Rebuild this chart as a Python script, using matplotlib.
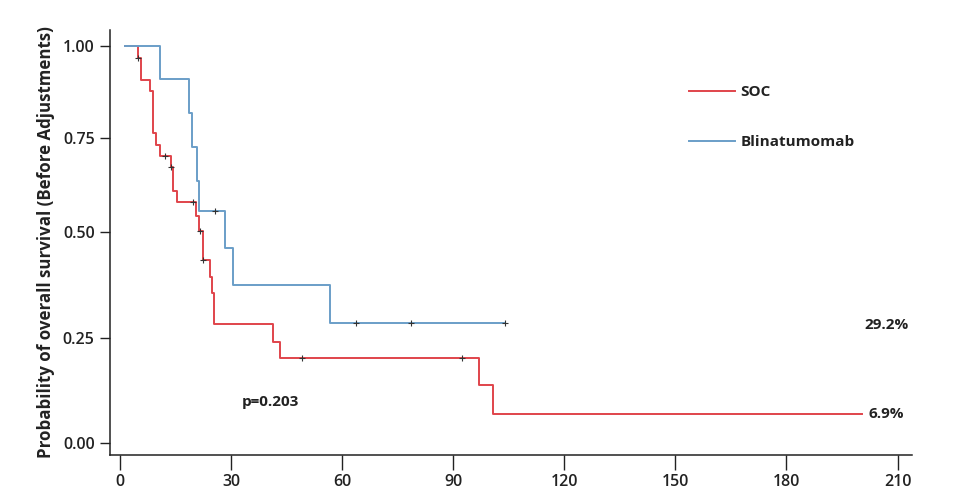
import numpy as np
import matplotlib
matplotlib.use("Agg")
import matplotlib.pyplot as plt

# ---- data ----
soc_times = [1.3, 4.9, 5.7, 8.1, 8.9, 9.7, 10.8, 13.8, 14.3, 15.4, 20.5, 21.3, 22.4, 24.3, 24.8, 25.4, 41.3, 43.2, 96.9, 100.7, 200.3]
soc_surv = [1.0, 0.967, 0.908, 0.878, 0.764, 0.731, 0.702, 0.673, 0.609, 0.580, 0.543, 0.503, 0.434, 0.394, 0.356, 0.283, 0.240, 0.202, 0.138, 0.069, 0.069]
soc_cens_t = [4.9, 12.2, 13.8, 19.7, 21.6, 22.4, 49.1, 92.3]
soc_cens_s = [0.967, 0.702, 0.673, 0.580, 0.503, 0.434, 0.202, 0.202]

bli_times = [1.3, 10.8, 18.6, 19.4, 20.8, 21.3, 28.4, 30.5, 56.7, 104.0]
bli_surv = [1.0, 0.909, 0.818, 0.727, 0.636, 0.556, 0.463, 0.375, 0.285, 0.285]
bli_cens_t = [25.6, 63.7, 78.6, 104.0]
bli_cens_s = [0.556, 0.285, 0.285, 0.285]

xticks = [0, 30, 60, 90, 120, 150, 180, 210]
yticks = [0.0, 0.25, 0.5, 0.75, 1.0]
ytick_labels = ["0.00", "0.25", "0.50", "0.75", "1.00"]

RED = "#e0444b"
BLUE = "#6a9ec8"

plt.rcParams['font.family'] = ['Open Sans', 'DejaVu Sans']

fig = plt.figure(figsize=(9.64, 4.99), dpi=100)
ax = fig.add_axes([110/964, 44/499, (912-110)/964, (469-44)/499])

# piecewise axis scale matching the reference's uneven tick spacing
_yn = np.array([-0.5, 0.0, 0.25, 0.5, 0.75, 1.0, 1.5])
_pn = np.array([-210, 0, 105, 211, 305, 397, 581], dtype=float)
def fwd(y):
    return np.interp(y, _yn, _pn)
def inv(p):
    return np.interp(p, _pn, _yn)
ax.set_yscale('function', functions=(fwd, inv))

ax.step(soc_times, soc_surv, where='post', color=RED, lw=1.4, label='SOC')
ax.step(bli_times, bli_surv, where='post', color=BLUE, lw=1.4, label='Blinatumomab')
ax.plot(soc_cens_t, soc_cens_s, ls='none', marker='+', color='#333333', ms=4, mew=0.8)
ax.plot(bli_cens_t, bli_cens_s, ls='none', marker='+', color='#333333', ms=4, mew=0.8)

ax.set_xlim(-2.7, 213.9)
ax.set_ylim(-0.0286, 1.0435)
ax.set_xticks(xticks)
ax.set_xticklabels([str(v) for v in xticks], fontsize=11.5)
ax.set_yticks(yticks)
ax.set_yticklabels(ytick_labels, fontsize=11.5)
ax.yaxis.set_minor_locator(matplotlib.ticker.NullLocator())
ax.tick_params(axis='x', length=11, width=1, direction='out', pad=3, colors='#222222')
ax.tick_params(axis='y', length=7, width=1, direction='out', pad=4, colors='#222222')
for lab in ax.get_xticklabels() + ax.get_yticklabels():
    lab.set_fontweight('semibold')
    lab.set_color('#222222')
for s in ['top', 'right']:
    ax.spines[s].set_visible(False)
for s in ['left', 'bottom']:
    ax.spines[s].set_linewidth(1.1)
    ax.spines[s].set_color('#222222')

ax.set_ylabel('Probability of overall survival (Before Adjustments)', fontsize=12.2,
              fontweight='bold', color='#222222', labelpad=6)

leg = ax.legend(loc='upper left', bbox_to_anchor=((683-110)/802, (469-93)/425),
                frameon=False, fontsize=11, handlelength=3.0, handletextpad=0.35,
                labelspacing=2.35, borderaxespad=0)
for t in leg.get_texts():
    t.set_fontweight('bold')
    t.set_color('#222222')

ax.text(201, 0.281, '29.2%', fontsize=11, fontweight='bold', color='#222222', va='center', ha='left')
ax.text(202.2, 0.069, '6.9%', fontsize=11, fontweight='bold', color='#222222', va='center', ha='left')
ax.text(33, 0.097, 'p=0.203', fontsize=11, fontweight='bold', color='#222222', va='center', ha='left')

fig.savefig('out.png', dpi=100, facecolor='white')
